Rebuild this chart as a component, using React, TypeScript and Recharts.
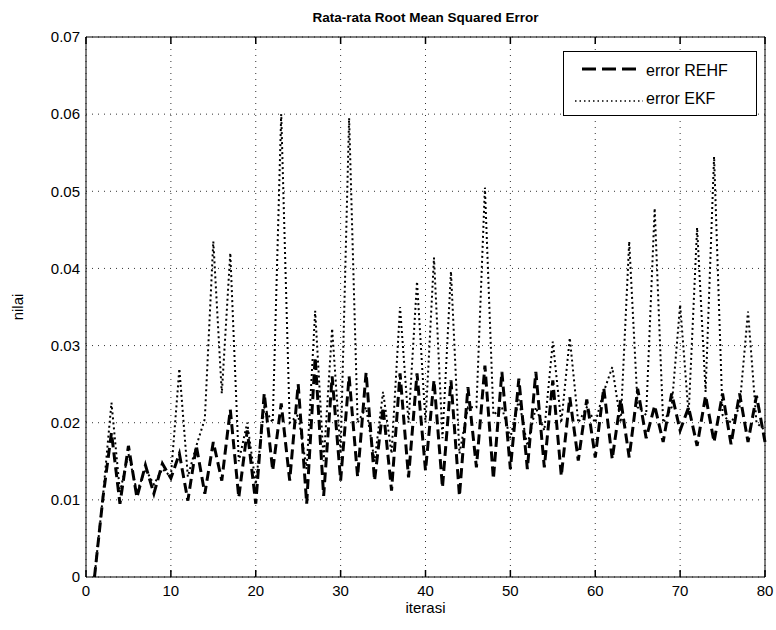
import { LineChart, Line, XAxis, YAxis, CartesianGrid, Legend } from "recharts";

const iterasi = [
  1, 2, 3, 4, 5, 6, 7, 8, 9, 10, 11, 12, 13, 14, 15, 16, 17, 18, 19, 20,
  21, 22, 23, 24, 25, 26, 27, 28, 29, 30, 31, 32, 33, 34, 35, 36, 37, 38, 39, 40,
  41, 42, 43, 44, 45, 46, 47, 48, 49, 50, 51, 52, 53, 54, 55, 56, 57, 58, 59, 60,
  61, 62, 63, 64, 65, 66, 67, 68, 69, 70, 71, 72, 73, 74, 75, 76, 77, 78, 79, 80,
];

const errorREHF = [
  0, 0.0103, 0.0187, 0.0095, 0.017, 0.0103, 0.0145, 0.0108, 0.0147, 0.0128,
  0.016, 0.0099, 0.017, 0.0108, 0.0175, 0.0125, 0.0217, 0.0103, 0.019, 0.0095,
  0.0238, 0.0138, 0.0225, 0.0125, 0.025, 0.0095, 0.0285, 0.0105, 0.026, 0.0125,
  0.026, 0.013, 0.0265, 0.0125, 0.022, 0.0112, 0.0264, 0.0129, 0.0264, 0.0138,
  0.0255, 0.0116, 0.0255, 0.0105, 0.0246, 0.0142, 0.0274, 0.0127, 0.0266, 0.014,
  0.0257, 0.014, 0.0266, 0.0142, 0.0255, 0.0131, 0.0233, 0.0151, 0.023, 0.0155,
  0.0245, 0.0153, 0.023, 0.0155, 0.0244, 0.018, 0.0222, 0.0175, 0.0238, 0.019,
  0.022, 0.017, 0.0235, 0.0175, 0.0238, 0.0172, 0.0238, 0.0175, 0.0235, 0.0175,
];

const errorEKF = [
  0, 0.0105, 0.0226, 0.011, 0.016, 0.011, 0.014, 0.012, 0.014, 0.013,
  0.027, 0.013, 0.017, 0.0205, 0.0435, 0.0238, 0.042, 0.015, 0.02, 0.012,
  0.022, 0.02, 0.06, 0.02, 0.021, 0.014, 0.0345, 0.015, 0.0322, 0.016,
  0.0595, 0.02, 0.022, 0.015, 0.024, 0.016, 0.035, 0.02, 0.0383, 0.02,
  0.0414, 0.018, 0.0396, 0.016, 0.022, 0.022, 0.0505, 0.021, 0.022, 0.018,
  0.023, 0.017, 0.022, 0.019, 0.0305, 0.02, 0.031, 0.02, 0.022, 0.02,
  0.024, 0.0272, 0.02, 0.0435, 0.022, 0.021, 0.0478, 0.02, 0.022, 0.0353,
  0.021, 0.0453, 0.024, 0.0545, 0.021, 0.02, 0.022, 0.0344, 0.02, 0.019,
];

const xTicks = [0, 10, 20, 30, 40, 50, 60, 70, 80];
const yTicks = [0, 0.01, 0.02, 0.03, 0.04, 0.05, 0.06, 0.07];

const data = iterasi.map((x, i) => ({ x, rehf: errorREHF[i], ekf: errorEKF[i] }));

const font = "Arial, 'Liberation Sans', Helvetica, sans-serif";
const tickStyle = { fill: "#000", fontSize: 15, fontFamily: font };
const frameLine = { stroke: "#000", strokeWidth: 1 };

// short tick mark pointing into the plot, drawn from the axis' own tick position
const TICK_LEN = 7;
const innerTick = (dx: number, dy: number) => (p: any) => (
  <line x1={p.x} y1={p.y} x2={p.x + dx * TICK_LEN} y2={p.y + dy * TICK_LEN} stroke="#000" strokeWidth={1.5} />
);

const LegendBox = () => (
  <svg width={194} height={65} style={{ display: "block" }}>
    <rect x={0.5} y={0.5} width={193} height={64} fill="#fff" stroke="#000" />
    <line x1={19} y1={18} x2={77} y2={18} stroke="#000" strokeWidth={3} strokeDasharray="14 6" />
    <text x={83} y={25} fontSize={16} fontFamily={font} fill="#000">error REHF</text>
    <line x1={12} y1={50} x2={80} y2={50} stroke="#000" strokeWidth={1.5} strokeDasharray="1.5 3" />
    <text x={83} y={53} fontSize={16} fontFamily={font} fill="#000">error EKF</text>
  </svg>
);

export default function App() {
  return (
    <div style={{ position: "absolute", left: 0, top: 0, width: 776, height: 630, background: "#fff" }}>
      <LineChart width={776} height={630} data={data} margin={{ top: 37, right: 11, bottom: 0, left: 0 }}>
        <CartesianGrid stroke="#333" strokeDasharray="1 5" />
        <XAxis
          xAxisId="bt"
          dataKey="x"
          type="number"
          domain={[0, 80]}
          ticks={xTicks}
          height={1}
          mirror
          axisLine={frameLine}
          tickLine={false}
          tickSize={0}
          tickMargin={0}
          tick={innerTick(0, -1)}
        />
        <XAxis
          dataKey="x"
          type="number"
          domain={[0, 80]}
          ticks={xTicks}
          height={53}
          axisLine={false}
          tickLine={false}
          tickSize={0}
          tickMargin={8}
          tick={tickStyle}
        />
        <XAxis
          xAxisId="top"
          dataKey="x"
          orientation="top"
          type="number"
          domain={[0, 80]}
          ticks={xTicks}
          height={1}
          mirror
          axisLine={frameLine}
          tickLine={false}
          tickSize={0}
          tickMargin={0}
          tick={innerTick(0, 1)}
        />
        <YAxis
          yAxisId="lt"
          type="number"
          domain={[0, 0.07]}
          ticks={yTicks}
          width={1}
          mirror
          axisLine={frameLine}
          tickLine={false}
          tickSize={0}
          tickMargin={0}
          tick={innerTick(1, 0)}
        />
        <YAxis
          type="number"
          domain={[0, 0.07]}
          ticks={yTicks}
          width={86}
          axisLine={false}
          tickLine={false}
          tickSize={0}
          tickMargin={6}
          tick={tickStyle}
          tickFormatter={(v: number) => (v === 0 ? "0" : v.toFixed(2))}
        />
        <YAxis
          yAxisId="right"
          orientation="right"
          type="number"
          domain={[0, 0.07]}
          ticks={yTicks}
          width={1}
          mirror
          axisLine={frameLine}
          tickLine={false}
          tickSize={0}
          tickMargin={0}
          tick={innerTick(-1, 0)}
        />
        <Legend
          layout="vertical"
          align="center"
          verticalAlign="middle"
          wrapperStyle={{ left: 563, top: 51, width: 194, height: 65 }}
          content={() => <LegendBox />}
        />
        <Line
          dataKey="rehf"
          name="error REHF"
          stroke="#000"
          strokeWidth={3}
          strokeDasharray="10 5"
          dot={false}
          isAnimationActive={false}
        />
        <Line
          dataKey="ekf"
          name="error EKF"
          stroke="#000"
          strokeWidth={2}
          strokeDasharray="2 3"
          dot={false}
          isAnimationActive={false}
        />
      </LineChart>
      <div style={{ position: "absolute", left: 87, top: 10, width: 677, textAlign: "center", fontFamily: font, fontWeight: "bold", fontSize: 13.5, lineHeight: "16px" }}>
        Rata-rata Root Mean Squared Error
      </div>
      <div style={{ position: "absolute", left: 87, top: 599, width: 677, textAlign: "center", fontFamily: font, fontSize: 15, lineHeight: "18px" }}>
        iterasi
      </div>
      <div style={{ position: "absolute", left: -22, top: 298, width: 80, textAlign: "center", fontFamily: font, fontSize: 15, lineHeight: "18px", transform: "rotate(-90deg)" }}>
        nilai
      </div>
    </div>
  );
}
